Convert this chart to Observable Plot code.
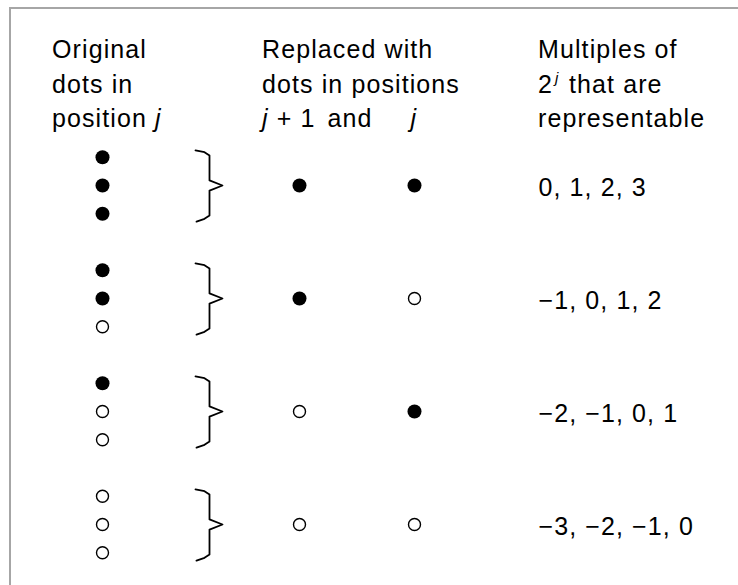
<!DOCTYPE html>
<html>
<head>
<meta charset="utf-8">
<script src="https://cdn.jsdelivr.net/npm/d3@7"></script>
<script src="https://cdn.jsdelivr.net/npm/@observablehq/plot@0.6"></script>
<style>
  html, body { margin: 0; padding: 0; background: #fff; }
  #wrap { position: relative; width: 738px; height: 585px; overflow: hidden; font-family: "Liberation Sans", Arial, sans-serif; color: #000; }
  #frame { position: absolute; left: 9px; top: 7px; right: -4px; bottom: -4px; border-top: 2px solid #a6a6a6; border-left: 2px solid #a6a6a6; }
  .hl { position: absolute; font-size: 25px; line-height: 30px; height: 30px; letter-spacing: 1.1px; white-space: pre; }
  .hl i { font-style: italic; }
  .hl .sup { position: absolute; font-size: 15px; line-height: 15px; top: 0px; font-style: italic; }
  #chart { position: absolute; left: 0; top: 0; }
  #chart svg text { letter-spacing: 1.1px; }
</style>
</head>
<body>
<div id="wrap">
  <div id="frame"></div>
  <div id="chart"></div>
</div>
<script>
// ---- data ----
const groups = [0, 1, 2, 3];
// original dots in position j, top to bottom (1 = filled, 0 = open)
const originalDots = [[1, 1, 1], [1, 1, 0], [1, 0, 0], [0, 0, 0]];
// replacement dots in position j+1 and j
const replacedHigh = [1, 1, 0, 0];
const replacedLow = [1, 0, 1, 0];
// representable multiples of 2^j
const multiples = ["0, 1, 2, 3", "\u22121, 0, 1, 2", "\u22122, \u22121, 0, 1", "\u22123, \u22122, \u22121, 0"];
// header lines (HTML, for the italic j and superscript)
const headerLines = [
  ["Original", "dots in", "position <i>j</i>"],
  ["Replaced with", "dots in positions", "<i>j</i> + 1<span style=\"margin-left:12px\">and</span><i style=\"margin-left:38px\">j</i>"],
  ["Multiples of", "2<span style=\"display:inline-block;width:16px\"></span>that are", "representable"]
];
const superscript = "j";

// ---- layout (styles / positions, not data) ----
const colX = {orig: 102, brace: 209, high: 299, low: 414, text: 538};
const headerX = [52, 262, 538];
const headerTop = 34, headerStep = 34.5;
const dotStep = 0.25;            // spacing of the stacked dots, in row units
const braceShape = [[-14, -0.31], [-5, -0.295], [0, -0.265], [0, -0.045], [13, 0], [0, 0.045], [0, 0.265], [-5, 0.295], [-13, 0.32]];

const dots = [];
groups.forEach(g => {
  originalDots[g].forEach((f, k) => dots.push({x: colX.orig, y: g + (k - 1) * dotStep, filled: f}));
  dots.push({x: colX.high, y: g, filled: replacedHigh[g]});
  dots.push({x: colX.low, y: g, filled: replacedLow[g]});
});
const braces = groups.flatMap(g => braceShape.map(([dx, dy]) => ({g, x: colX.brace + dx, y: g + dy})));
const labels = groups.map(g => ({x: colX.text, y: g, text: multiples[g]}));

const chart = Plot.plot({
  width: 738,
  height: 585,
  margin: 0,
  x: {type: "identity"},
  y: {domain: [0, 3], range: [185, 524]},
  axis: null,
  style: {background: "transparent", overflow: "visible"},
  marks: [
    Plot.line(braces, {x: "x", y: "y", z: "g", stroke: "#000", strokeWidth: 1.8, curve: "linear"}),
    Plot.dot(dots.filter(d => d.filled), {x: "x", y: "y", r: 7, fill: "#000", stroke: "none"}),
    Plot.dot(dots.filter(d => !d.filled), {x: "x", y: "y", r: 6, fill: "#fff", stroke: "#000", strokeWidth: 1.4}),
    Plot.text(labels, {x: "x", y: "y", text: "text", textAnchor: "start", dy: 2, fontSize: 25, fill: "#000", fontFamily: "Liberation Sans, Arial, sans-serif"})
  ]
});
document.getElementById("chart").appendChild(chart);

const wrap = document.getElementById("wrap");
headerLines.forEach((lines, i) => {
  lines.forEach((h, k) => {
    const d = document.createElement("div");
    d.className = "hl";
    d.style.left = headerX[i] + "px";
    d.style.top = (headerTop + k * headerStep) + "px";
    d.innerHTML = h;
    wrap.appendChild(d);
  });
});
// superscript j after the "2"
const s = document.createElement("div");
s.className = "hl";
s.style.left = (headerX[2] + 17) + "px";
s.style.top = (headerTop + headerStep - 2) + "px";
s.style.height = "15px";
s.style.lineHeight = "15px";
s.innerHTML = "<i style=\"font-size:15px\">" + superscript + "</i>";
wrap.appendChild(s);
</script>
</body>
</html>
